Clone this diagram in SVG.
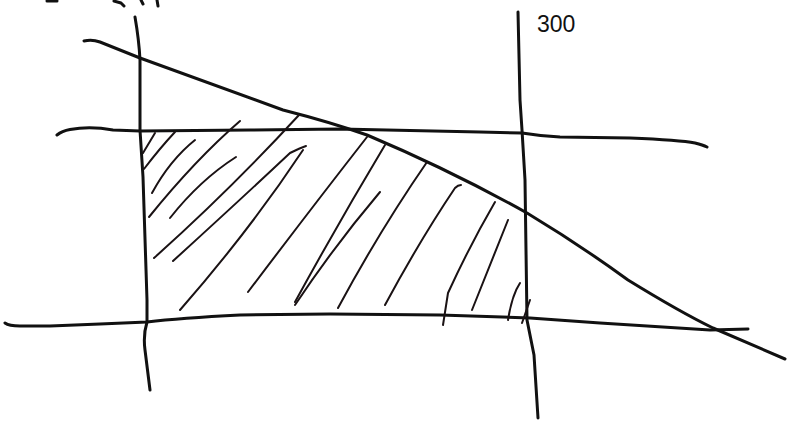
<svg xmlns="http://www.w3.org/2000/svg" width="802" height="427" viewBox="0 0 802 427">
<style>
.ln{fill:none;stroke:#111;stroke-width:3;stroke-linecap:round;stroke-linejoin:round}
.h{fill:none;stroke:#1a1214;stroke-width:2;stroke-linecap:round;stroke-linejoin:round}
.lbl{font-family:"Liberation Sans",Arial,sans-serif;font-size:23px;fill:#111}
</style>
<rect width="802" height="427" fill="#fff"/>
<g id="fragments">
<path class="ln" d="M47,1 L57,1" />
<path class="ln" d="M114,1 L121,3 L124,6" />
<path class="ln" d="M141,0 L143,4" />
<path class="ln" d="M157,0 L158,6" />
</g>
<g id="lines">
<path id="left-vertical" class="ln" d="M135,17 Q139,40 140,60 L140,130 L143,177 L147,300 L147,322 Q143,335 145,350 L150,390"/>
<path id="right-vertical" class="ln" d="M518,12 L520,100 L522,130 L525,180 L527,320 Q530,335 534,355 L538,418"/>
<path id="upper-horizontal" class="ln" d="M57,135 Q62,131 70,129.5 Q90,126 113,130 L140,131 L250,130 L340,129 L480,132 L522,133 Q540,136 560,137 L630,138 Q680,140 695,143 Q703,145 707,147"/>
<path id="lower-horizontal" class="ln" d="M5,323 Q9,326 20,326 L50,326 L100,324 L147,322 Q180,318 240,315 L330,314 L440,315 L530,318 L600,323 L710,330 L748,329"/>
<path id="diagonal" class="ln" d="M84,41 Q92,39 100,42 L140,58 L283,110 Q330,122 367,135 Q450,170 527,213 Q580,245 628,280 Q680,312 713,328 L785,359"/>
</g>
<g id="hatching">
<path class="h" d="M143,153 L155,133"/>
<path class="h" d="M144,169 Q160,148 175,132"/>
<path class="h" d="M152,193 Q170,160 195,140"/>
<path class="h" d="M149,217 Q195,160 240,121"/>
<path class="h" d="M170,218 Q200,180 236,157"/>
<path class="h" d="M154,258 Q230,190 299,115"/>
<path class="h" d="M173,261 Q240,200 290,153 Q300,148 306,146"/>
<path class="h" d="M180,310 Q250,230 303,150"/>
<path class="h" d="M248,292 Q310,210 367,137"/>
<path class="h" d="M295,302 Q340,220 385,145"/>
<path class="h" d="M295,305 Q335,245 380,192"/>
<path class="h" d="M338,308 Q380,230 427,162"/>
<path class="h" d="M385,305 Q420,240 455,188 Q458,185 461,185"/>
<path class="h" d="M443,325 L448,293 Q470,245 495,202"/>
<path class="h" d="M472,310 Q490,265 508,220"/>
<path class="h" d="M508,320 Q512,295 520,283"/>
<path class="h" d="M522,323 L530,300"/>
</g>
<g id="label">
<text class="lbl" x="537" y="32">300</text>
</g>
</svg>
